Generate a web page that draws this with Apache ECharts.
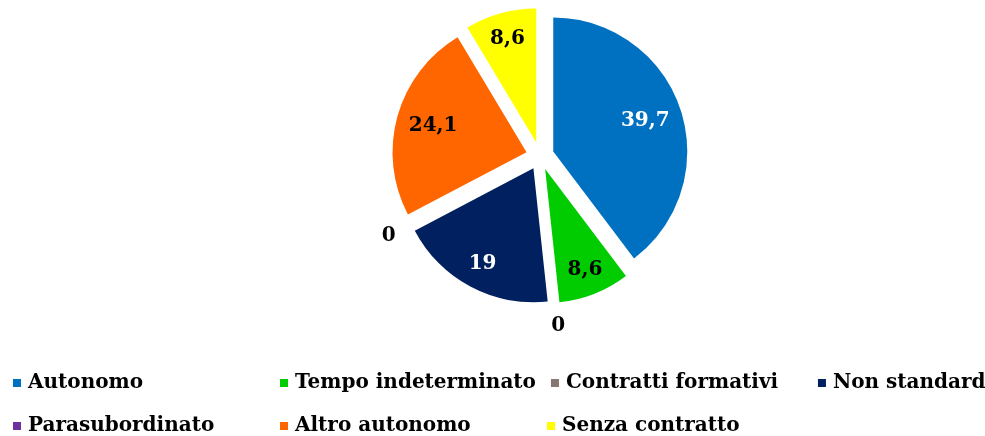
<!DOCTYPE html>
<html>
<head>
<meta charset="utf-8">
<script src="https://cdn.jsdelivr.net/npm/echarts@6/dist/echarts.min.js"></script>
<style>html,body{margin:0;padding:0;background:#fff}#c{width:985px;height:436px}</style>
</head>
<body>
<div id="c"></div>
<script>
const categories = ['Autonomo', 'Tempo indeterminato', 'Contratti formativi', 'Non standard', 'Parasubordinato', 'Altro autonomo', 'Senza contratto'];
const values = [39.7, 8.6, 0, 19, 0, 24.1, 8.6];
const colors = ['#0070C0', '#00CC00', '#847770', '#002060', '#7030A0', '#FF6600', '#FFFF00'];
const labelColors = ['#ffffff', '#000000', '#000000', '#ffffff', '#000000', '#000000', '#000000'];

const FONT = 'DejaVu Serif';
const fmt = v => String(v).replace('.', ',');
const center = [540, 156];

// label ring groups: 0 = zero values (outside), 1 = small slices, 2 = large slices
const groupOf = v => v === 0 ? 0 : (v < 20 ? 1 : 2);

const mainData = categories.map((n, i) => ({
  name: n, value: values[i], selected: true,
  itemStyle: { color: colors[i] }
}));
const labelData = (g) => categories.map((n, i) => ({
  name: n, value: values[i],
  label: { show: groupOf(values[i]) === g, color: labelColors[i] }
}));
const overlayBase = {
  type: 'pie', center: center, startAngle: 90, clockwise: true,
  silent: true, animation: false, selectedMode: false,
  itemStyle: { color: 'rgba(0,0,0,0)', borderWidth: 0 },
  emphasis: { disabled: true },
  labelLine: { show: false },
  label: {
    position: 'inside', fontFamily: FONT, fontWeight: 'bold', fontSize: 20,
    formatter: p => fmt(p.value)
  }
};

const chart = echarts.init(document.getElementById('c'), null, { renderer: 'canvas' });
chart.setOption({
  animation: false,
  color: colors,
  legend: {
    data: categories,
    left: 13, top: 369, width: 1100, padding: 0,
    orient: 'horizontal',
    icon: 'rect', itemWidth: 8, itemHeight: 8, itemGap: 15,
    selectedMode: false,
    textStyle: {
      fontFamily: FONT, fontWeight: 'bold', fontSize: 20, color: '#000',
      width: 237, lineHeight: 28, padding: [0, 0, 0, 2], overflow: 'none'
    }
  },
  series: [
    {
      type: 'pie', center: center, radius: [0, 134], startAngle: 90, clockwise: true,
      selectedMode: 'multiple', selectedOffset: 14,
      silent: true, animation: false,
      itemStyle: { borderWidth: 0 },
      select: { itemStyle: { borderWidth: 0 } },
      emphasis: { disabled: true },
      label: { show: false }, labelLine: { show: false },
      data: mainData
    },
    Object.assign({}, overlayBase, { radius: [86, 130], data: labelData(2) }),
    Object.assign({}, overlayBase, { radius: [98, 140], data: labelData(1) }),
    Object.assign({}, overlayBase, { radius: [150, 186], data: labelData(0) })
  ]
});
</script>
</body>
</html>
